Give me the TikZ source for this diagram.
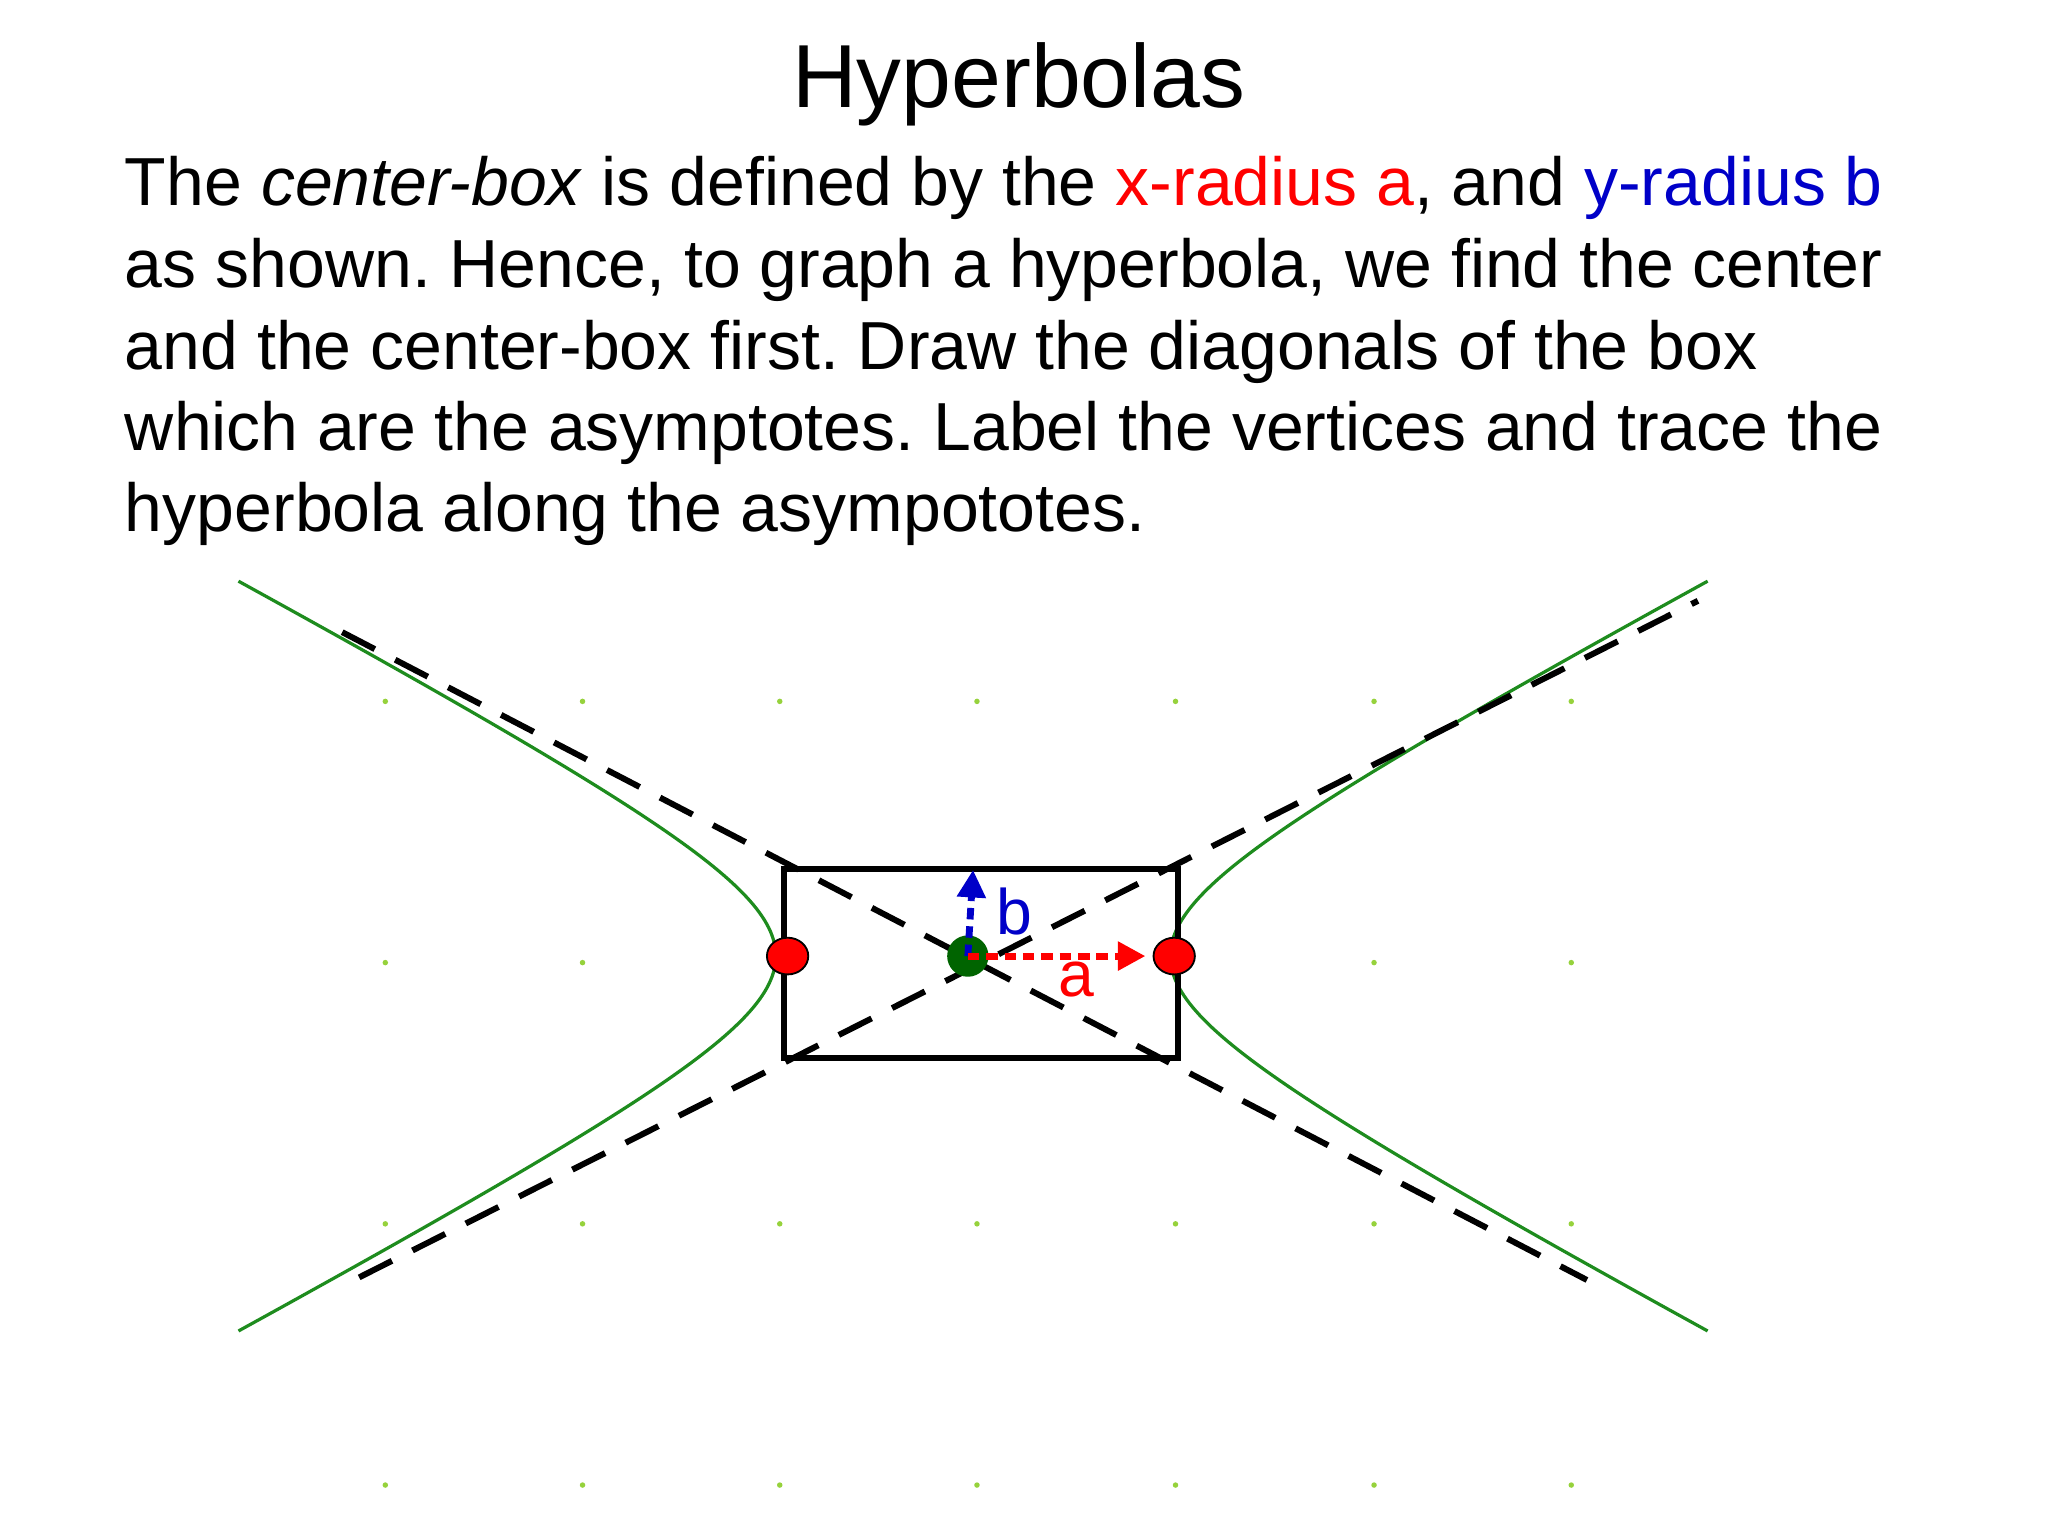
\documentclass[tikz,border=0pt]{standalone}
\usepackage{fontspec}
\setmainfont{Liberation Sans}
\usetikzlibrary{arrows.meta,shapes.geometric}
\definecolor{hgreen}{RGB}{30,140,30}
\definecolor{dotg}{RGB}{150,210,60}
\definecolor{cgreen}{RGB}{0,100,0}
\definecolor{bblue}{RGB}{0,0,200}
\tikzset{
 txt/.style={anchor=base west,inner sep=0,font=\fontsize{14.8}{18}\selectfont},
 asym/.style={line width=1.3pt,dash pattern=on 8pt off 5pt},
 vert/.style={ellipse,draw=black,fill=red,minimum width=9pt,minimum height=8pt,inner sep=0,line width=0.4pt},
 curve/.style={hgreen,line width=0.7pt}
}
\frenchspacing
\begin{document}
\begin{tikzpicture}[x=0.01cm,y=-0.01cm]
\useasboundingbox (0,0) rectangle (1568,1176);
\node[anchor=base,inner sep=0,font=\fontsize{19.5}{22}\selectfont] (title) at (780,82) {Hyperbolas};
\node[txt] (l1) at (95,157) {The \textit{center-box} is defined by the \textcolor{red}{x-radius a}, and \textcolor{bblue}{y-radius b}};
\node[txt] (l2) at (95,220) {as shown. Hence, to graph a hyperbola, we find the center};
\node[txt] (l3) at (95,283) {and the center-box first. Draw the diagonals of the box};
\node[txt] (l4) at (95,345) {which are the asymptotes. Label the vertices and trace the};
\node[txt] (l5) at (95,407) {hyperbola along the asympototes.};
% grid dots
\foreach \x in {295,446,597,748,900,1052,1203}
  \foreach \y in {537,737,937,1137}
    \fill[dotg] (\x,\y) circle (0.6pt);
% hyperbola
\draw[curve] plot[domain=0:1.99,samples=60] ({745+151*cosh(\x)},{732-80*sinh(\x)});
\draw[curve] plot[domain=0:1.99,samples=60] ({745+151*cosh(\x)},{732+80*sinh(\x)});
\draw[curve] plot[domain=0:1.99,samples=60] ({745-151*cosh(\x)},{732-80*sinh(\x)});
\draw[curve] plot[domain=0:1.99,samples=60] ({745-151*cosh(\x)},{732+80*sinh(\x)});
% box
\draw[line width=1.3pt] (600,665) rectangle (902,810);
\coordinate (ul) at (262,484); \coordinate (lr) at (1215,980);
\coordinate (ll) at (275,978); \coordinate (ur) at (1300,460);
\draw[asym] (ul) -- (lr);
\draw[asym] (ll) -- (ur);
% center and vertices
\node[circle,fill=cgreen,minimum size=9pt,inner sep=0] (c) at (741,732) {};
\node[vert] (v1) at (603,732) {};
\node[vert] (v2) at (899,732) {};
\coordinate (bt) at (745,666);
\coordinate (at) at (877,732);
\draw[bblue,line width=1.5pt,dash pattern=on 2.5pt off 1.5pt,-{Triangle[length=6pt,width=6pt]}] (c.center) -- (bt);
\draw[red,line width=1.5pt,dash pattern=on 2.5pt off 1.5pt,-{Triangle[length=6pt,width=6pt]}] (c.center) -- (at);
\node[bblue,font=\fontsize{14}{16}\selectfont,inner sep=0] (lb) at (777,698) {b};
\node[red,font=\fontsize{14}{16}\selectfont,inner sep=0] (la) at (824,750) {a};
\end{tikzpicture}
\end{document}
